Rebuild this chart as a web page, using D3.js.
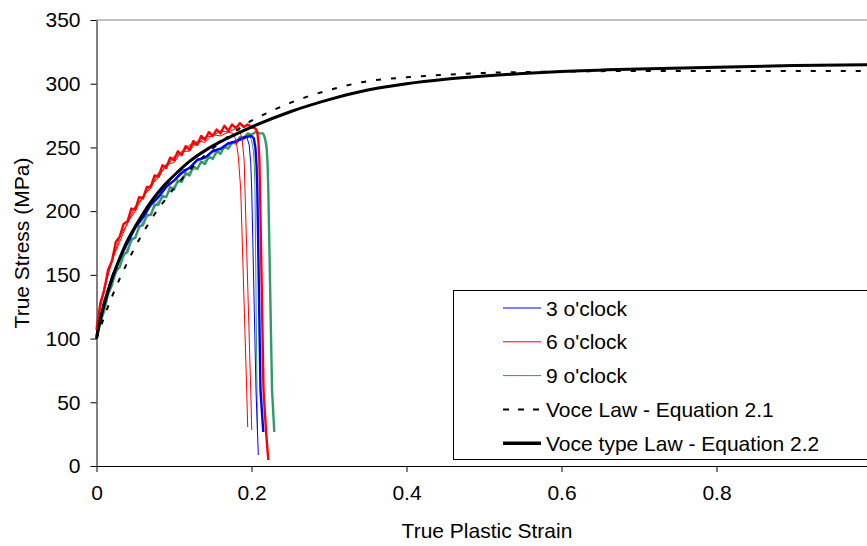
<!DOCTYPE html>
<html>
<head>
<meta charset="utf-8">
<script src="https://cdn.jsdelivr.net/npm/d3@7"></script>
<style>
  body { margin: 0; background: #fff; }
  svg { display: block; font-family: "Liberation Sans", Arial, sans-serif; }
</style>
</head>
<body>
<div id="chart"></div>
<script>
const xTicks = [0, 0.2, 0.4, 0.6, 0.8];
const yTicks = [0, 50, 100, 150, 200, 250, 300, 350];
const legendLabels = ["3 o'clock", "6 o'clock", "9 o'clock", "Voce Law - Equation 2.1", "Voce type Law - Equation 2.2"];

// measured curves, [true plastic strain, true stress MPa]
const blueThin = [[0,103],[0.005,118],[0.01,130],[0.02,150],[0.03,164],[0.04,177],[0.05,189],[0.06,197],[0.07,207],[0.08,212],[0.09,221],[0.1,224],[0.11,232],[0.12,234],[0.13,241],[0.14,242],[0.15,248],[0.16,249],[0.17,254],[0.18,254],[0.19,257],[0.194,258],[0.197,252],[0.199,238],[0.2003,216.6],[0.2058,59.6],[0.2088,8.6]];

const blueThick = [[0,102],[0.005,116],[0.01,129],[0.02,147],[0.03,163],[0.04,175],[0.05,187],[0.06,195],[0.07,205],[0.08,211],[0.09,219],[0.1,224],[0.11,230],[0.12,234],[0.13,240],[0.14,242],[0.15,247],[0.16,249],[0.17,253],[0.18,255],[0.19,258],[0.2,259],[0.203,257],[0.205,250],[0.2065,236],[0.2075,216.6],[0.2116,59.6],[0.2152,26.7]];

const redThinA = [[0,109],[0.005,125],[0.01,141],[0.02,160],[0.03,180],[0.04,190],[0.05,204],[0.06,210],[0.07,221],[0.08,226],[0.09,237],[0.1,238],[0.11,247],[0.12,247],[0.13,255],[0.14,254],[0.15,260],[0.16,259],[0.17,262],[0.176,261],[0.18,256],[0.183,243],[0.1861,216.6],[0.1938,59.6],[0.1951,30.6]];

const redThinB = [[0,106],[0.005,124],[0.01,138],[0.02,162],[0.03,176],[0.04,191],[0.05,200],[0.06,212],[0.07,218],[0.08,230],[0.09,234],[0.1,243],[0.11,245],[0.12,252],[0.13,252],[0.14,258],[0.15,259],[0.16,263],[0.17,262],[0.18,265],[0.185,263],[0.188,256],[0.1905,240],[0.1916,216.6],[0.199,59.6],[0.2003,28.3]];

const redThick = [[0,107],[0.005,128],[0.01,138],[0.015,154],[0.02,161],[0.025,176],[0.03,180],[0.035,190],[0.04,192],[0.045,202],[0.05,201],[0.055,211],[0.06,210],[0.065,219],[0.07,219],[0.075,228],[0.08,227],[0.085,236],[0.09,234],[0.095,242],[0.1,240],[0.105,247],[0.11,244],[0.115,251],[0.12,248],[0.125,255],[0.13,252],[0.135,259],[0.14,256],[0.145,262],[0.15,259],[0.155,264],[0.16,261],[0.165,267],[0.17,263],[0.175,268],[0.18,265],[0.185,269],[0.19,266],[0.195,268],[0.2,266],[0.205,265],[0.2075,262],[0.209,254],[0.2102,240],[0.211,216.6],[0.2135,129],[0.2155,59.6],[0.219,25],[0.2217,4.7]];

const greenThin = [[0,101],[0.005,113],[0.01,125],[0.02,144],[0.03,157],[0.04,171],[0.05,180],[0.06,192],[0.07,198],[0.08,208],[0.09,212],[0.1,220],[0.11,224],[0.12,231],[0.13,234],[0.14,240],[0.15,242],[0.16,248],[0.17,250],[0.18,255],[0.19,256],[0.197,259],[0.2,256],[0.2025,247],[0.2038,234],[0.2045,216.6],[0.2071,59.6],[0.2077,28]];

const greenThick = [[0,100],[0.005,113],[0.01,122],[0.015,135],[0.02,142],[0.025,153],[0.03,156],[0.035,166],[0.04,168],[0.045,178],[0.05,179],[0.055,188],[0.06,189],[0.065,197],[0.07,197],[0.075,205],[0.08,205],[0.085,212],[0.09,211],[0.095,219],[0.1,217],[0.105,224],[0.11,223],[0.115,230],[0.12,228],[0.125,235],[0.13,233],[0.135,239],[0.14,237],[0.145,243],[0.15,241],[0.155,247],[0.16,245],[0.165,251],[0.17,249],[0.175,254],[0.18,253],[0.185,258],[0.19,257],[0.195,261],[0.2,260],[0.205,262],[0.21,261],[0.215,261],[0.2175,257],[0.2195,250],[0.2207,238],[0.2217,216.6],[0.2265,59.6],[0.2294,26.7]];

// fitted laws
const voceLaw = [[0,100],[0.01,117],[0.02,133],[0.03,147],[0.04,160],[0.05,172],[0.06,183],[0.07,193],[0.08,202],[0.09,210],[0.1,218],[0.12,232],[0.14,244],[0.16,254],[0.18,263],[0.2,271],[0.22,277],[0.25,285],[0.3,295],[0.35,302],[0.4,305],[0.45,307],[0.5,308.5],[0.6,309.5],[0.7,310],[0.8,310],[0.9,310],[1.0,310]];

const voceTypeLaw = [[0,100],[0.005,115],[0.01,127],[0.02,147],[0.03,163],[0.04,177],[0.05,188],[0.06,198],[0.07,207],[0.08,215],[0.09,222],[0.1,228],[0.12,239],[0.14,247.5],[0.16,254.5],[0.18,260.5],[0.2,266],[0.25,278],[0.3,287.5],[0.35,295],[0.4,300],[0.45,303.5],[0.5,306],[0.55,308],[0.6,309.5],[0.7,311.5],[0.8,313],[0.9,314.2],[1.0,315]];

const width = 867, height = 546;
const fontSize = 21;

const svg = d3.select("#chart")
  .append("svg")
    .attr("width", width)
    .attr("height", height);

const x = d3.scaleLinear().domain([0, 1]).range([96.5, 871.5]);
const y = d3.scaleLinear().domain([0, 350]).range([466, 20]);

// top frame line
svg.append("line")
  .attr("x1", x(0)).attr("x2", width)
  .attr("y1", y(350)).attr("y2", y(350))
  .attr("stroke", "#808080")
  .attr("stroke-width", 1);

const yAxis = svg.append("g")
  .attr("transform", `translate(${x(0)},0)`)
  .call(d3.axisLeft(y).tickValues(yTicks).tickSize(6).tickSizeOuter(0).tickPadding(10));

const xAxis = svg.append("g")
  .attr("transform", `translate(0,${y(0)})`)
  .call(d3.axisBottom(x).tickValues(xTicks).tickSize(6).tickSizeOuter(0).tickPadding(13)
    .tickFormat(d => String(d)));

[xAxis, yAxis].forEach(g => {
  g.selectAll("text")
    .attr("fill", "#000")
    .style("font-size", fontSize + "px")
    .style("font-family", "'Liberation Sans', Arial, sans-serif");
  g.selectAll("line, path").attr("stroke", "#000");
});

svg.append("text")
  .attr("transform", "rotate(-90)")
  .attr("x", -243)
  .attr("y", 29)
  .attr("text-anchor", "middle")
  .style("font-size", fontSize + "px")
  .text("True Stress (MPa)");

svg.append("text")
  .attr("x", 487)
  .attr("y", 538)
  .attr("text-anchor", "middle")
  .style("font-size", fontSize + "px")
  .text("True Plastic Strain");

const line = d3.line()
  .x(d => x(d[0]))
  .y(d => y(d[1]));

const smoothLine = d3.line()
  .curve(d3.curveMonotoneX)
  .x(d => x(d[0]))
  .y(d => y(d[1]));

const curves = [
  { data: greenThin, color: "#339966", w: 1 },
  { data: greenThick, color: "#339966", w: 2.4 },
  { data: blueThin, color: "#0000ff", w: 1 },
  { data: blueThick, color: "#0000ff", w: 2.4 },
  { data: redThinA, color: "#ff0000", w: 1 },
  { data: redThinB, color: "#ff0000", w: 1 },
  { data: redThick, color: "#ff0000", w: 2.4 }
];

svg.append("g")
  .selectAll("path")
  .data(curves)
  .join("path")
    .attr("d", d => line(d.data))
    .attr("fill", "none")
    .attr("stroke", d => d.color)
    .attr("stroke-width", d => d.w)
    .attr("stroke-linejoin", "round");

svg.append("path")
  .attr("d", smoothLine(voceLaw))
  .attr("fill", "none")
  .attr("stroke", "#000")
  .attr("stroke-width", 2)
  .attr("stroke-dasharray", "5,10");

svg.append("path")
  .attr("d", smoothLine(voceTypeLaw))
  .attr("fill", "none")
  .attr("stroke", "#000")
  .attr("stroke-width", 3);

// legend
const legend = svg.append("g");

legend.append("rect")
  .attr("x", 453.5)
  .attr("y", 290.5)
  .attr("width", 440)
  .attr("height", 169)
  .attr("fill", "#fff")
  .attr("stroke", "#000")
  .attr("stroke-width", 1);

const legendStyles = [
  { color: "#0000ff", w: 1, dash: null },
  { color: "#ff0000", w: 1, dash: null },
  { color: "#339966", w: 1, dash: null },
  { color: "#000", w: 2, dash: "6,9" },
  { color: "#000", w: 3.5, dash: null }
];

const rows = legend.selectAll("g.row")
  .data(legendLabels)
  .join("g")
    .attr("class", "row")
    .attr("transform", (d, i) => `translate(0,${308 + i * 33.8})`);

rows.append("line")
  .attr("x1", 503)
  .attr("x2", 541)
  .attr("stroke", (d, i) => legendStyles[i].color)
  .attr("stroke-width", (d, i) => legendStyles[i].w)
  .attr("stroke-dasharray", (d, i) => legendStyles[i].dash);

rows.append("text")
  .attr("x", 546)
  .attr("dy", "0.36em")
  .style("font-size", fontSize + "px")
  .text(d => d);
</script>
</body>
</html>
